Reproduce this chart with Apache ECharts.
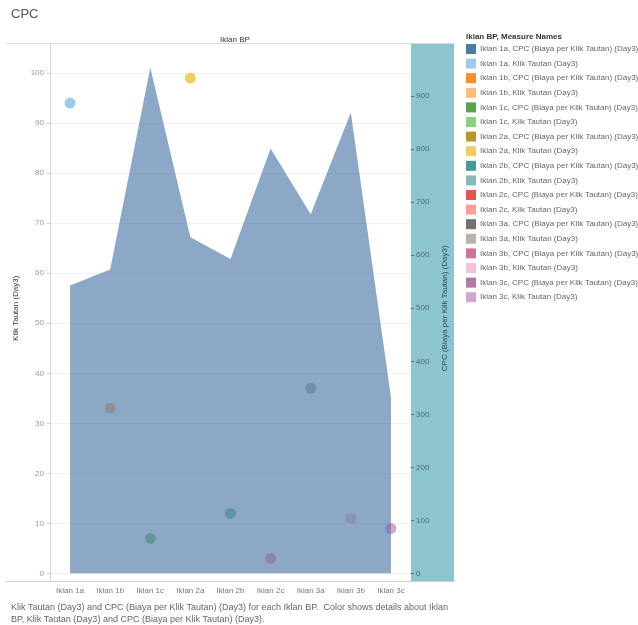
<!DOCTYPE html>
<html>
<head>
<meta charset="utf-8">
<script src="https://cdn.jsdelivr.net/npm/echarts@6/dist/echarts.min.js"></script>
<style>
  html, body { margin: 0; padding: 0; background: #fff; }
  #chart { width: 638px; height: 625px; }
</style>
</head>
<body>
<div id="chart"></div>
<script>
// Ads on the x axis
const ads = ['Iklan 1a', 'Iklan 1b', 'Iklan 1c', 'Iklan 2a', 'Iklan 2b', 'Iklan 2c', 'Iklan 3a', 'Iklan 3b', 'Iklan 3c'];
// CPC (Biaya per Klik Tautan) (Day3) — drawn as the area, right axis
const cpcValues = [543, 573, 954, 634, 593, 801, 677, 869, 332];
// Klik Tautan (Day3) — drawn as dots, left axis
const klikValues = [94, 33, 7, 99, 12, 3, 37, 11, 9];
// Colour per ad and measure
const cpcColors = ['#4e79a7', '#f28e2b', '#59a14f', '#b6992d', '#499894', '#e15759', '#79706e', '#d37295', '#b07aa1'];
const klikColors = ['#a0cbe8', '#ffbe7d', '#8cd17d', '#f1ce63', '#86bcb6', '#ff9d9a', '#bab0ac', '#fabfd2', '#d4a6c8'];
// Axis ranges
const klikAxis = { min: 0, max: 106, interval: 10 };
const cpcAxis = { min: 0, max: 1000, interval: 100 };

const cpcMeasure = 'CPC (Biaya per Klik Tautan) (Day3)';
const klikMeasure = 'Klik Tautan (Day3)';
const FONT = '"Liberation Sans", Arial, sans-serif';

const cpcName = i => ads[i] + ', ' + cpcMeasure;
const klikName = i => ads[i] + ', ' + klikMeasure;

const legendNames = [];
ads.forEach((a, i) => { legendNames.push(cpcName(i), klikName(i)); });

const series = [];
// CPC area across all ads
series.push({
  name: cpcName(0),
  type: 'line',
  yAxisIndex: 1,
  data: cpcValues,
  symbol: 'none',
  color: cpcColors[0],
  lineStyle: { width: 0 },
  areaStyle: { color: '#4e79a7', opacity: 0.65 },
  z: 3,
  silent: true
});
// the remaining CPC measures share the same area, listed in the legend
for (let i = 1; i < ads.length; i++) {
  series.push({ name: cpcName(i), type: 'line', yAxisIndex: 1, data: [], color: cpcColors[i] });
}
// one dot per ad for Klik Tautan
ads.forEach((a, i) => {
  series.push({
    name: klikName(i),
    type: 'scatter',
    yAxisIndex: 0,
    data: [[a, klikValues[i]]],
    color: klikColors[i],
    symbolSize: 11,
    itemStyle: { opacity: 1 },
    z: 2
  });
});

const chart = echarts.init(document.getElementById('chart'), null, { renderer: 'canvas' });
chart.setOption({
  animation: false,
  textStyle: { fontFamily: FONT },
  title: [
    { text: 'CPC', left: 6, top: 3, textStyle: { fontSize: 13, fontWeight: 'normal', color: '#555', fontFamily: FONT } },
    { text: 'Iklan BP', left: 230, top: 31, textAlign: 'center', textStyle: { fontSize: 8, fontWeight: 'normal', color: '#333', fontFamily: FONT } },
    { text: 'Iklan BP, Measure Names', left: 461, top: 28, textStyle: { fontSize: 8, fontWeight: 'bold', color: '#333', fontFamily: FONT } },
    { text: 'Klik Tautan (Day3) and CPC (Biaya per Klik Tautan) (Day3) for each Iklan BP.  Color shows details about Iklan\nBP, Klik Tautan (Day3) and CPC (Biaya per Klik Tautan) (Day3).',
      left: 6, top: 597, textStyle: { fontSize: 9, fontWeight: 'normal', color: '#666', lineHeight: 12, fontFamily: FONT } }
  ],
  legend: {
    data: legendNames,
    orient: 'vertical',
    left: 461,
    top: 39,
    icon: 'rect',
    itemWidth: 10,
    itemHeight: 10,
    itemGap: 4.6,
    selectedMode: false,
    textStyle: { fontSize: 8, color: '#666', fontFamily: FONT, padding: [0, 0, 0, -1] }
  },
  grid: { left: 50, right: 227, top: 43, bottom: 51.5, containLabel: false },
  xAxis: {
    type: 'category',
    data: ads,
    boundaryGap: true,
    axisLine: { show: false },
    axisTick: { show: false },
    axisLabel: { color: '#777', fontSize: 8, margin: 13 },
    splitLine: { show: false }
  },
  yAxis: [
    {
      type: 'value',
      position: 'left',
      min: klikAxis.min, max: klikAxis.max, interval: klikAxis.interval,
      name: klikMeasure,
      nameLocation: 'middle',
      nameGap: 28,
      nameRotate: 90,
      nameTextStyle: { color: '#333', fontSize: 8 },
      axisLine: { show: false },
      axisTick: { show: true, length: 3, lineStyle: { color: '#ccc' } },
      axisLabel: { color: '#999', fontSize: 8, margin: 6, showMaxLabel: false },
      splitLine: { show: true, lineStyle: { color: '#f0f0f0' } }
    },
    {
      type: 'value',
      position: 'right',
      min: cpcAxis.min, max: cpcAxis.max, interval: cpcAxis.interval,
      name: cpcMeasure,
      nameLocation: 'middle',
      nameGap: 30,
      nameRotate: 90,
      nameTextStyle: { color: '#2f4a56', fontSize: 8 },
      axisLine: { show: false },
      axisTick: { show: true, length: 3, lineStyle: { color: '#52707c' } },
      axisLabel: { color: '#4f6c78', fontSize: 8, margin: 5, showMaxLabel: false },
      splitLine: { show: false }
    }
  ],
  graphic: [
    { type: 'rect', z: -10, silent: true, shape: { x: 411, y: 43, width: 43, height: 538 }, style: { fill: '#8cc4d0' } },
    { type: 'line', z: 10, silent: true, shape: { x1: 6, y1: 43.5, x2: 455, y2: 43.5 }, style: { stroke: '#dcdcdc', lineWidth: 1 } },
    { type: 'line', z: 10, silent: true, shape: { x1: 6, y1: 581.5, x2: 455, y2: 581.5 }, style: { stroke: '#cfcfcf', lineWidth: 1 } },
    { type: 'line', z: 10, silent: true, shape: { x1: 50.5, y1: 43, x2: 50.5, y2: 581 }, style: { stroke: '#d6d6d6', lineWidth: 1 } }
  ],
  series: series
});
</script>
</body>
</html>
